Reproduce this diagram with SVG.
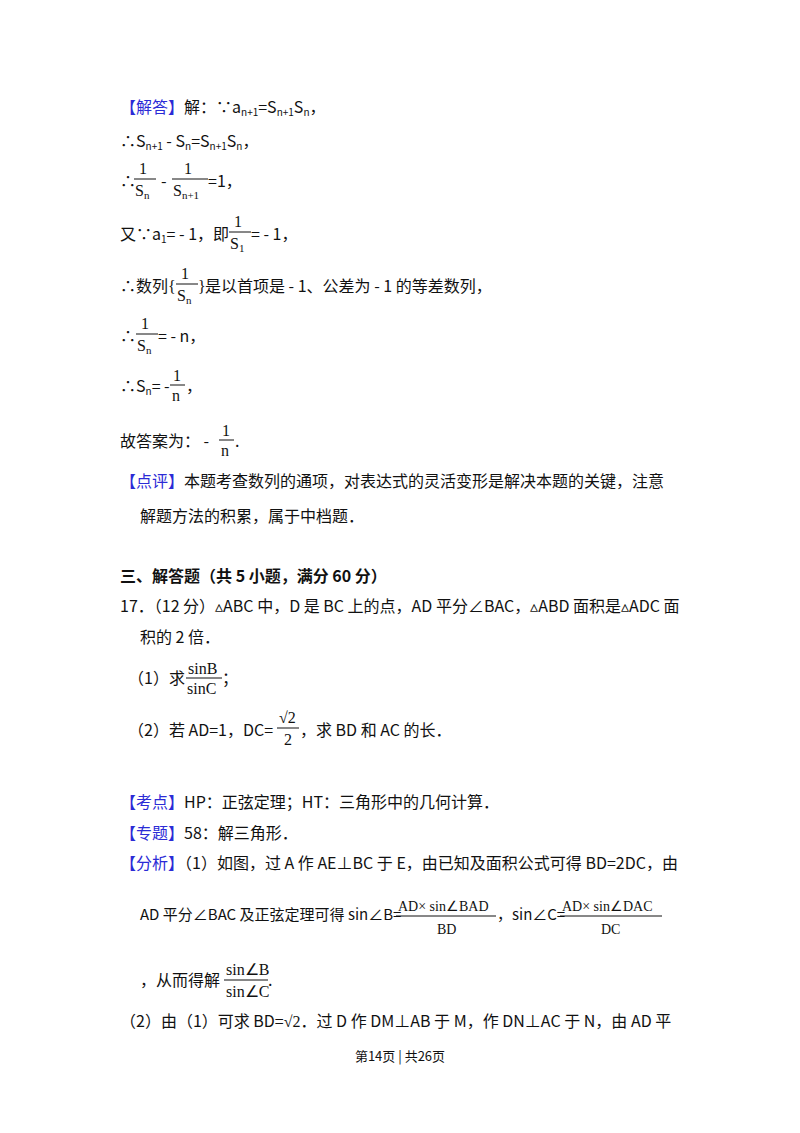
<svg xmlns="http://www.w3.org/2000/svg" width="800" height="1133" viewBox="0 0 800 1133">
<style>
text{font-family:"Noto Sans CJK SC","Noto Sans",sans-serif;font-size:16px;fill:#111}
.b{fill:#2b2bd6}
.s{font-size:10px}
.m{font-family:"Liberation Serif",serif;font-size:16px}
.mf{font-family:"Liberation Serif",serif;font-size:14px}
.ms{font-family:"Liberation Serif",serif;font-size:11px}
.bold{font-weight:bold}
line{stroke:#111;stroke-width:1}
</style>
<rect width="800" height="1133" fill="#fff"/>
<g id="answer">
<text x="120" y="113"><tspan class="b">【解答】</tspan>解：∵a<tspan class="s" dy="3">n+1</tspan><tspan dy="-3">=S</tspan><tspan class="s" dy="3">n+1</tspan><tspan dy="-3">S</tspan><tspan class="s" dy="3">n</tspan><tspan dy="-3">，</tspan></text>
<text x="120" y="147">∴S<tspan class="s" dy="3">n+1</tspan><tspan dy="-3"> - S</tspan><tspan class="s" dy="3">n</tspan><tspan dy="-3">=S</tspan><tspan class="s" dy="3">n+1</tspan><tspan dy="-3">S</tspan><tspan class="s" dy="3">n</tspan><tspan dy="-3">，</tspan></text>
<text x="120" y="187">∴</text>
<text class="m" x="139" y="174">1</text><line x1="134" y1="179" x2="156" y2="179"/><text class="m" x="135" y="196">S<tspan class="ms" dy="3">n</tspan></text>
<text x="161" y="187">-</text>
<text class="m" x="184" y="174">1</text><line x1="172" y1="179" x2="208" y2="179"/><text class="m" x="173" y="196">S<tspan class="ms" dy="3">n+1</tspan></text>
<text x="208" y="187">=1，</text>
<text x="120" y="240">又∵a<tspan class="s" dy="3">1</tspan><tspan dy="-3">= - 1，即</tspan></text>
<text class="m" x="234" y="227">1</text><line x1="229" y1="232" x2="251" y2="232"/><text class="m" x="230" y="249">S<tspan class="ms" dy="3">1</tspan></text>
<text x="251" y="240">= - 1，</text>
<text x="120" y="292">∴数列</text>
<text class="m" x="168" y="292">{</text>
<text class="m" x="181" y="279">1</text><line x1="176" y1="284" x2="198" y2="284"/><text class="m" x="177" y="301">S<tspan class="ms" dy="3">n</tspan></text>
<text class="m" x="198" y="292">}</text>
<text x="205" y="292">是以首项是 - 1、公差为 - 1 的等差数列，</text>
<text x="120" y="342">∴</text>
<text class="m" x="141" y="329">1</text><line x1="136" y1="334" x2="158" y2="334"/><text class="m" x="137" y="351">S<tspan class="ms" dy="3">n</tspan></text>
<text x="158" y="342">= - n，</text>
<text x="120" y="392">∴S<tspan class="s" dy="3">n</tspan><tspan dy="-3">= -</tspan></text>
<text class="m" x="173" y="381">1</text><line x1="170" y1="385" x2="185" y2="385"/><text class="m" x="172" y="401">n</text>
<text x="186" y="392">，</text>
<text x="120" y="447">故答案为： -</text>
<text class="m" x="222" y="436">1</text><line x1="219" y1="440" x2="234" y2="440"/><text class="m" x="221" y="456">n</text>
<text x="235" y="447">.</text>
<text x="120" y="487"><tspan class="b">【点评】</tspan>本题考查数列的通项，对表达式的灵活变形是解决本题的关键，注意</text>
<text x="140" y="522">解题方法的积累，属于中档题．</text>
</g>
<g id="section">
<text x="120" y="582" class="bold">三、解答题（共 5 小题，满分 60 分）</text>
<text x="120" y="612">17．（12 分）▵ABC 中，D 是 BC 上的点，AD 平分∠BAC，▵ABD 面积是▵ADC 面</text>
<text x="140" y="643">积的 2 倍．</text>
<text x="128" y="684">（1）求</text>
<text class="m" x="188" y="674">sinB</text><line x1="186" y1="678" x2="222" y2="678"/><text class="m" x="187" y="694">sinC</text>
<text x="222" y="684">；</text>
<text x="128" y="736">（2）若 AD=1，DC=</text>
<text class="m" x="279" y="723">√2</text><line x1="277" y1="728" x2="299" y2="728"/><text class="m" x="284" y="745">2</text>
<text x="300" y="736">，求 BD 和 AC 的长．</text>
</g>
<g id="analysis">
<text x="120" y="808"><tspan class="b">【考点】</tspan>HP：正弦定理；HT：三角形中的几何计算．</text>
<text x="120" y="839"><tspan class="b">【专题】</tspan>58：解三角形．</text>
<text x="120" y="869"><tspan class="b">【分析】</tspan>（1）如图，过 A 作 AE⊥BC 于 E，由已知及面积公式可得 BD=2DC，由</text>
<text x="140" y="920" style="font-size:15px">AD 平分∠BAC 及正弦定理可得 sin∠B=</text>
<text class="mf" x="398" y="911">AD× sin∠BAD</text><line x1="396" y1="916" x2="496" y2="916"/><text class="mf" x="437" y="934">BD</text>
<text x="497" y="920" style="font-size:15px">，sin∠C=</text>
<text class="mf" x="562" y="911">AD× sin∠DAC</text><line x1="560" y1="916" x2="662" y2="916"/><text class="mf" x="601" y="934">DC</text>
<text x="140" y="986">，从而得解</text>
<text class="m" x="226" y="975">sin∠B</text><line x1="224" y1="980" x2="268" y2="980"/><text class="m" x="226" y="997">sin∠C</text>
<text x="268" y="986">.</text>
<text x="120" y="1027">（2）由（1）可求 BD=<tspan class="m">√2</tspan>．过 D 作 DM⊥AB 于 M，作 DN⊥AC 于 N，由 AD 平</text>
<text x="400" y="1061" text-anchor="middle" style="font-size:13px">第14页 | 共26页</text>
</g>
</svg>
